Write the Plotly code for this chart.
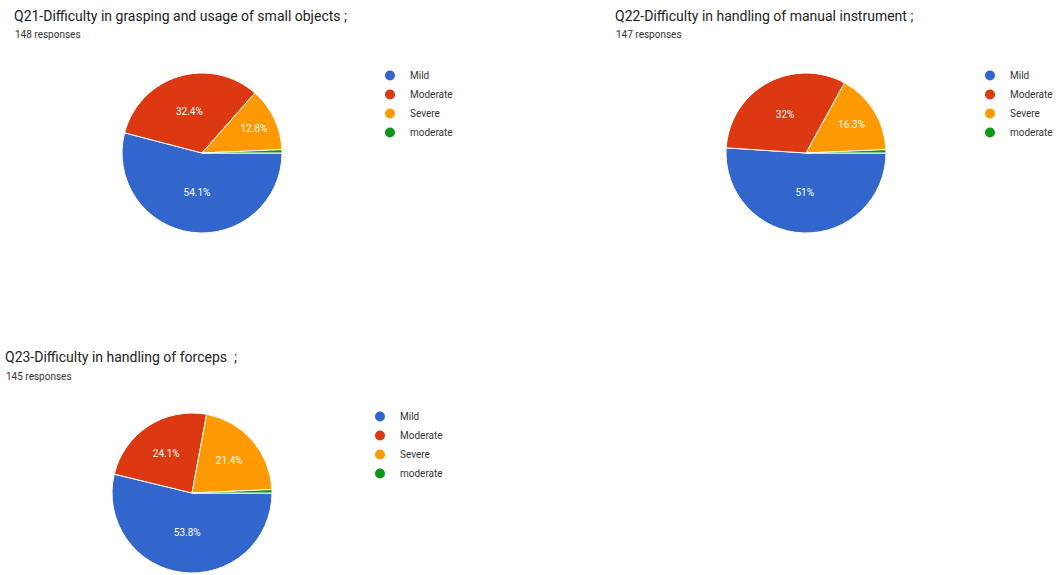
import plotly.graph_objects as go

categories = ["Mild", "Moderate", "Severe", "moderate"]
colors = ["#3366CC", "#DC3912", "#FF9900", "#109618"]

q21_title = "Q21-Difficulty in grasping and usage of small objects ;"
q21_responses = "148 responses"
q21_counts = [80, 48, 19, 1]

q22_title = "Q22-Difficulty in handling of manual instrument ;"
q22_responses = "147 responses"
q22_counts = [75, 47, 24, 1]

q23_title = "Q23-Difficulty in handling of forceps  ;"
q23_responses = "145 responses"
q23_counts = [78, 35, 31, 1]

W, H = 1058, 575
FONT = "Roboto, Arial, sans-serif"


def dom(cx, cy, r):
    return dict(x=[(cx - r) / W, (cx + r) / W], y=[1 - (cy + r) / H, 1 - (cy - r) / H])


charts = [
    dict(counts=q21_counts, title=q21_title, resp=q21_responses, pie=(202, 153, 80),
         legend="legend", tx=12, ty=16),
    dict(counts=q22_counts, title=q22_title, resp=q22_responses, pie=(806, 153, 80),
         legend="legend2", tx=613, ty=16),
    dict(counts=q23_counts, title=q23_title, resp=q23_responses, pie=(192, 493, 80),
         legend="legend3", tx=3, ty=357),
]

fig = go.Figure()
annotations = []
for ch in charts:
    total = sum(ch["counts"])
    tmpl = ["%{percent}" if v / total > 0.05 else "" for v in ch["counts"]]
    fig.add_trace(go.Pie(
        labels=categories, values=ch["counts"], sort=False, direction="clockwise",
        rotation=90, domain=dom(*ch["pie"]),
        marker=dict(colors=colors, line=dict(color="white", width=1)),
        texttemplate=tmpl, textposition="inside", insidetextorientation="horizontal",
        textfont=dict(color="white", size=10, family=FONT),
        showlegend=False, hoverinfo="label+percent",
    ))
    for cat, col in zip(categories, colors):
        fig.add_trace(go.Scatter(
            x=[None], y=[None], mode="markers", name=cat,
            marker=dict(color=col, size=10, symbol="circle"),
            legend=ch["legend"], showlegend=True,
        ))
    annotations.append(dict(text=ch["title"], x=ch["tx"] / W, y=1 - ch["ty"] / H,
                            xref="paper", yref="paper", xanchor="left", yanchor="middle",
                            showarrow=False, font=dict(size=14, color="#222222", family=FONT)))
    annotations.append(dict(text=ch["resp"], x=(ch["tx"] + 1) / W, y=1 - (ch["ty"] + 19) / H,
                            xref="paper", yref="paper", xanchor="left", yanchor="middle",
                            showarrow=False, font=dict(size=10, color="#333333", family=FONT)))

leg_common = dict(xanchor="left", yanchor="top", font=dict(size=10, color="#333333", family=FONT),
                  bgcolor="rgba(0,0,0,0)", itemwidth=30, tracegroupgap=0)
fig.update_layout(
    width=W, height=H, margin=dict(l=0, r=0, t=0, b=0, autoexpand=False),
    paper_bgcolor="white", plot_bgcolor="white",
    xaxis=dict(visible=False), yaxis=dict(visible=False),
    annotations=annotations,
    legend=dict(x=370 / W, y=1 - 61 / H, **leg_common),
    legend2=dict(x=970 / W, y=1 - 61 / H, **leg_common),
    legend3=dict(x=360 / W, y=1 - 402 / H, **leg_common),
)
fig.write_html("out.html")
